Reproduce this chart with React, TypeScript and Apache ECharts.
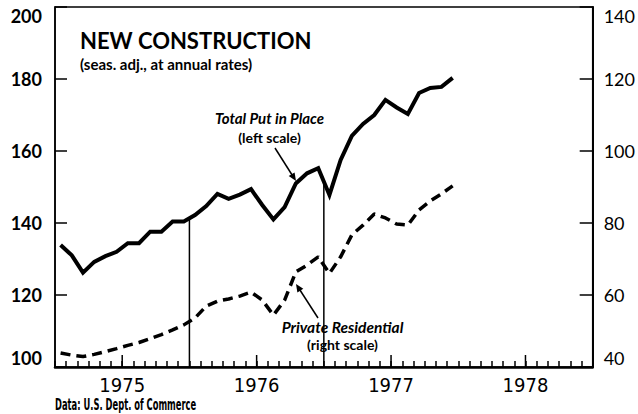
import React, { useEffect, useRef } from "react";
import * as echarts from "echarts";

// Monthly data, Jan 1975 .. Dec 1977 (billions of dollars, seas. adj. annual rates)
const totalPutInPlace = [
  133.9, 131.0, 126.2, 129.2, 130.8, 132.0, 134.4, 134.4, 137.6, 137.6, 140.4, 140.4,
  142.2, 144.7, 148.1, 146.7, 147.9, 149.4, 145.0, 141.0, 144.4, 151.0, 153.8, 155.2,
  147.8, 157.5, 164.2, 167.5, 170.0, 174.2, 172.1, 170.3, 176.1, 177.5, 177.8, 180.3,
];
const privateResidential = [
  43.9, 43.3, 42.9, 43.5, 44.3, 45.1, 46.0, 46.8, 47.9, 49.0, 50.3, 51.7,
  53.6, 56.9, 58.3, 58.9, 59.7, 60.8, 58.6, 54.4, 58.6, 66.4, 68.3, 70.6,
  66.0, 70.6, 76.7, 79.4, 82.5, 81.4, 79.7, 79.4, 83.6, 86.1, 88.1, 90.3,
];
const yearLabels = ["1975", "1976", "1977", "1978"];
const leftTicks = { min: 100, max: 200, step: 20 };
const rightTicks = { min: 40, max: 140, step: 20 };
const yearMarkerMonths = [12, 24]; // Jan 1976, Jan 1977

function interpTotal(m: number): number {
  // data points sit at mid-month (i + 0.5)
  const pos = m - 0.5;
  const i = Math.floor(pos);
  const f = pos - i;
  return totalPutInPlace[i] + (totalPutInPlace[i + 1] - totalPutInPlace[i]) * f;
}

const FONT = "Lato, 'Open Sans', sans-serif";
const NARROW = "'Liberation Sans Narrow', 'DejaVu Sans Condensed', sans-serif";

export default function App() {
  const ref = useRef<HTMLDivElement>(null);
  useEffect(() => {
    if (!ref.current) return;
    const chart = echarts.init(ref.current, undefined, { renderer: "svg" });
    const midYearTicks = yearLabels.map((_, k) => 6 + 12 * k);
    chart.setOption({
      animation: false,
      backgroundColor: "#fff",
      grid: {
        left: 55,
        top: 7,
        right: 43,
        bottom: 47,
        show: true,
        borderColor: "#000",
        borderWidth: 1.5,
      },
      xAxis: {
        type: "value",
        min: 0,
        max: yearLabels.length * 12,
        interval: 1,
        splitLine: { show: false },
        axisLine: { show: true, lineStyle: { color: "#000", width: 2.5 } },
        axisTick: { show: true, inside: true, length: 6, lineStyle: { color: "#000", width: 1.5 } },
        axisLabel: {
          show: true,
          margin: 8,
          color: "#000",
          fontFamily: NARROW,
          fontSize: 20,
          formatter: (v: number) => {
            const k = (v - 6) / 12;
            return Number.isInteger(k) && k >= 0 && k < yearLabels.length ? yearLabels[k] : "";
          },
        },
      },
      yAxis: [
        {
          type: "value",
          position: "left",
          min: leftTicks.min,
          max: leftTicks.max,
          interval: leftTicks.step,
          splitLine: { show: false },
          axisLine: { show: true, lineStyle: { color: "#000", width: 1.5 } },
          axisTick: { show: true, inside: true, length: 12, lineStyle: { color: "#000", width: 1.5 } },
          axisLabel: {
            margin: 13,
            color: "#000",
            fontFamily: FONT,
            fontWeight: "bold",
            fontSize: 18,
            verticalAlignMaxLabel: "top",
            verticalAlignMinLabel: "bottom",
          },
        },
        {
          type: "value",
          position: "right",
          min: rightTicks.min,
          max: rightTicks.max,
          interval: rightTicks.step,
          splitLine: { show: false },
          axisLine: { show: true, lineStyle: { color: "#000", width: 2 } },
          axisTick: { show: true, inside: true, length: 13, lineStyle: { color: "#000", width: 1.5 } },
          axisLabel: {
            margin: 11,
            color: "#000",
            fontFamily: FONT,
            fontSize: 18,
            verticalAlignMaxLabel: "top",
            verticalAlignMinLabel: "bottom",
          },
        },
      ],
      series: [
        ...yearMarkerMonths.map((m) => ({
          type: "line",
          yAxisIndex: 0,
          symbol: "none",
          data: [
            [m, leftTicks.min],
            [m, interpTotal(m)],
          ],
          lineStyle: { color: "#000", width: 1.5 },
          z: 1,
        })),
        {
          type: "line",
          name: "Total Put in Place",
          yAxisIndex: 0,
          symbol: "none",
          data: totalPutInPlace.map((v, i) => [i + 0.5, v]),
          lineStyle: { color: "#000", width: 4, join: "miter" },
          z: 3,
        },
        {
          type: "line",
          name: "Private Residential",
          yAxisIndex: 1,
          symbol: "none",
          data: privateResidential.map((v, i) => [i + 0.5, v]),
          lineStyle: { color: "#000", width: 3.5, type: [10, 6] },
          z: 3,
        },
        {
          type: "custom",
          yAxisIndex: 0,
          data: midYearTicks.map((m) => [m, leftTicks.min]),
          renderItem: (_params: any, api: any) => {
            const p = api.coord([api.value(0), api.value(1)]);
            return {
              type: "line",
              shape: { x1: p[0], y1: p[1], x2: p[0], y2: p[1] - 12 },
              style: { stroke: "#000", lineWidth: 1.5 },
            };
          },
          z: 4,
        },
      ],
      graphic: [
        {
          type: "text",
          left: 80,
          top: 29,
          style: { text: "NEW CONSTRUCTION", fill: "#000", font: `bold 22px ${FONT}` },
        },
        {
          type: "text",
          left: 80,
          top: 56,
          style: { text: "(seas. adj., at annual rates)", fill: "#000", font: `bold 15px ${FONT}` },
        },
        {
          type: "text",
          x: 269.5,
          y: 118,
          style: {
            text: "Total Put in Place",
            fill: "#000",
            font: `italic bold 15px ${FONT}`,
            align: "center",
            verticalAlign: "middle",
          },
        },
        {
          type: "text",
          x: 269.5,
          y: 137,
          style: {
            text: "(left scale)",
            fill: "#000",
            font: `bold 14px ${FONT}`,
            align: "center",
            verticalAlign: "middle",
          },
        },
        {
          type: "text",
          x: 342.5,
          y: 327,
          style: {
            text: "Private Residential",
            fill: "#000",
            font: `italic bold 15.5px ${FONT}`,
            align: "center",
            verticalAlign: "middle",
          },
        },
        {
          type: "text",
          x: 342.5,
          y: 344,
          style: {
            text: "(right scale)",
            fill: "#000",
            font: `bold 14px ${FONT}`,
            align: "center",
            verticalAlign: "middle",
          },
        },
        {
          type: "line",
          shape: { x1: 275, y1: 148, x2: 294, y2: 178 },
          style: { stroke: "#000", lineWidth: 1.5 },
        },
        {
          type: "polygon",
          shape: { points: [[296, 181], [288.7, 176.1], [294.6, 172.4]] },
          style: { fill: "#000" },
        },
        {
          type: "line",
          shape: { x1: 318, y1: 318, x2: 298, y2: 287 },
          style: { stroke: "#000", lineWidth: 1.5 },
        },
        {
          type: "polygon",
          shape: { points: [[296, 284], [303.3, 288.8], [297.4, 292.6]] },
          style: { fill: "#000" },
        },
        {
          type: "text",
          x: 55,
          y: 397,
          scaleX: 0.62,
          style: { text: "Data: U.S. Dept. of Commerce", fill: "#000", font: `bold 15px ${NARROW}` },
        },
      ],
    });
    return () => chart.dispose();
  }, []);
  return <div ref={ref} style={{ width: 638, height: 414, position: "absolute", left: 0, top: 0 }} />;
}
